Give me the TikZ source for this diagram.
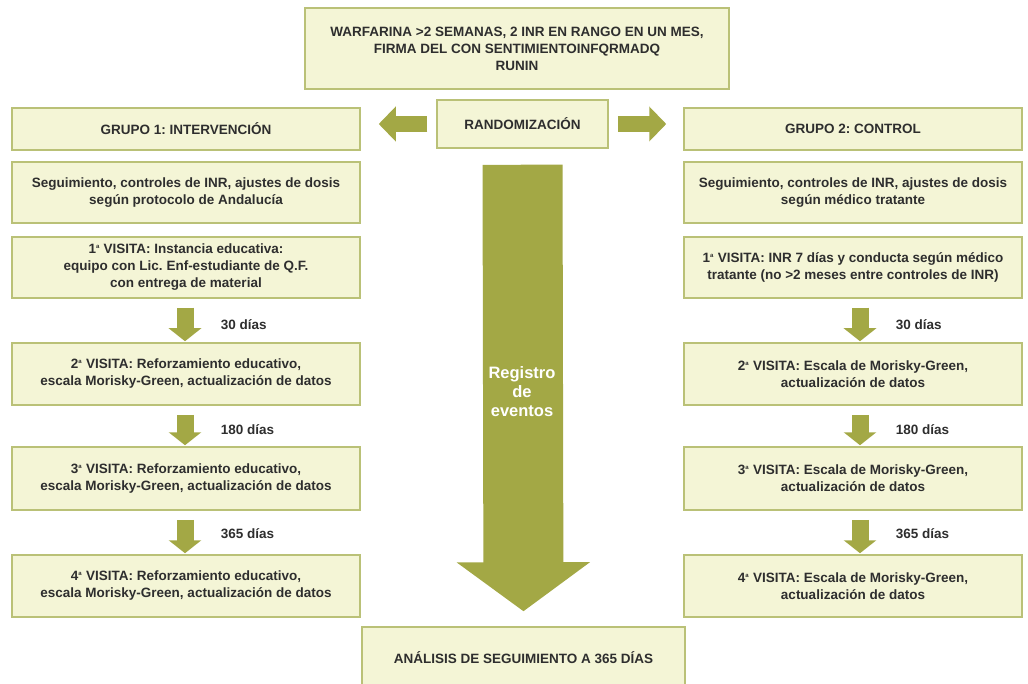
\documentclass[tikz,border=0pt]{standalone}
\usepackage{fontspec}
\setmainfont{Liberation Sans}
\usepackage{tikz}
\usetikzlibrary{calc,arrows.meta}
\definecolor{boxfill}{HTML}{F4F5D6}
\definecolor{boxline}{HTML}{BAC177}
\definecolor{olive}{HTML}{A3A845}
\definecolor{ink}{HTML}{2E2E2E}
\newcommand{\ord}{\textsuperscript{\fontsize{6}{6}\selectfont a}}
\frenchspacing
\tikzset{
  box/.style={draw=boxline, fill=boxfill, line width=1.5pt, align=center, text=ink, inner sep=0pt,
    font=\bfseries\fontsize{13.5}{17}\selectfont},
  lcol/.style={box, minimum width=348pt},
  rcol/.style={box, minimum width=338pt},
  flow/.style={draw=olive, line width=17pt, shorten <=9pt, shorten >=1pt,
    -{Triangle[width=32pt,length=13pt]}},
  side/.style={draw=olive, line width=16pt, -{Triangle[width=34pt,length=17pt]}},
  big/.style={draw=olive, line width=80pt, shorten <=16pt, shorten >=15pt,
    -{Triangle[width=131pt,length=49pt]}},
  days/.style={text=ink, font=\bfseries\fontsize{13.5}{17}\selectfont},
}

\begin{document}
\begin{tikzpicture}[x=1pt,y=-1pt]
  \useasboundingbox (0,0) rectangle (1028,684);
  % top
  \node[box, minimum width=424pt, minimum height=81pt] (inc) at (517,48.5)
    {WARFARINA >2 SEMANAS, 2 INR EN RANGO EN UN MES,\\FIRMA DEL CON SENTIMIENTOINFQRMADQ\\RUNIN};
  \node[box, minimum width=171pt, minimum height=48pt] (rand) at (522.5,124) {RANDOMIZACIÓN};
  \node[box, minimum width=323pt, minimum height=62pt] (ana) at (523.5,658) {ANÁLISIS DE SEGUIMIENTO A 365 DÍAS};
  % grupo 1
  \node[lcol, minimum height=42pt] (g1) at (186,129) {GRUPO 1: INTERVENCIÓN};
  \node[lcol, minimum height=61pt] (s1) at (186,192.5)
    {Seguimiento, controles de INR, ajustes de dosis\\según protocolo de Andalucía};
  \node[lcol, minimum height=61pt] (v1) at (186,267.5)
    {1\ord{} VISITA: Instancia educativa:\\equipo con Lic. Enf-estudiante de Q.F.\\con entrega de material};
  \node[lcol, minimum height=62pt] (v2) at (186,374)
    {2\ord{} VISITA: Reforzamiento educativo,\\escala Morisky-Green, actualización de datos};
  \node[lcol, minimum height=63pt] (v3) at (186,478.5)
    {3\ord{} VISITA: Reforzamiento educativo,\\escala Morisky-Green, actualización de datos};
  \node[lcol, minimum height=62pt] (v4) at (186,586)
    {4\ord{} VISITA: Reforzamiento educativo,\\escala Morisky-Green, actualización de datos};
  % grupo 2
  \node[rcol, minimum height=42pt] (g2) at (853,129) {GRUPO 2: CONTROL};
  \node[rcol, minimum height=61pt] (s2) at (853,192.5)
    {Seguimiento, controles de INR, ajustes de dosis\\según médico tratante};
  \node[rcol, minimum height=61pt] (w1) at (853,267.5)
    {1\ord{} VISITA: INR 7 días y conducta según médico\\tratante (no >2 meses entre controles de INR)};
  \node[rcol, minimum height=62pt] (w2) at (853,374)
    {2\ord{} VISITA: Escala de Morisky-Green,\\actualización de datos};
  \node[rcol, minimum height=63pt] (w3) at (853,478.5)
    {3\ord{} VISITA: Escala de Morisky-Green,\\actualización de datos};
  \node[rcol, minimum height=62pt] (w4) at (853,586)
    {4\ord{} VISITA: Escala de Morisky-Green,\\actualización de datos};
  % arrows
  \draw[side, shorten <=9pt, shorten >=18pt] (rand.west) -- (rand.west -| g1.east);
  \draw[side, shorten <=9pt, shorten >=17pt] (rand.east) -- (rand.east -| g2.west);
  \draw[big] (rand.south) -- (ana.north);
  \node[text=white, align=center, font=\bfseries\fontsize{16.5}{19}\selectfont] (reg) at (522,392)
    {Registro\\de\\eventos};
  \draw[flow] ([xshift=-1pt]v1.south) -- ([xshift=-1pt]v2.north) node[days, pos=0.6, right=24pt] {30 días};
  \draw[flow] ([xshift=-1pt]v2.south) -- ([xshift=-1pt]v3.north) node[days, pos=0.6, right=24pt] {180 días};
  \draw[flow] ([xshift=-1pt]v3.south) -- ([xshift=-1pt]v4.north) node[days, pos=0.52, right=24pt] {365 días};
  \draw[flow] ([xshift=7pt]w1.south) -- ([xshift=7pt]w2.north) node[days, pos=0.6, right=24pt] {30 días};
  \draw[flow] ([xshift=7pt]w2.south) -- ([xshift=7pt]w3.north) node[days, pos=0.6, right=24pt] {180 días};
  \draw[flow] ([xshift=7pt]w3.south) -- ([xshift=7pt]w4.north) node[days, pos=0.52, right=24pt] {365 días};
\end{tikzpicture}
\end{document}
